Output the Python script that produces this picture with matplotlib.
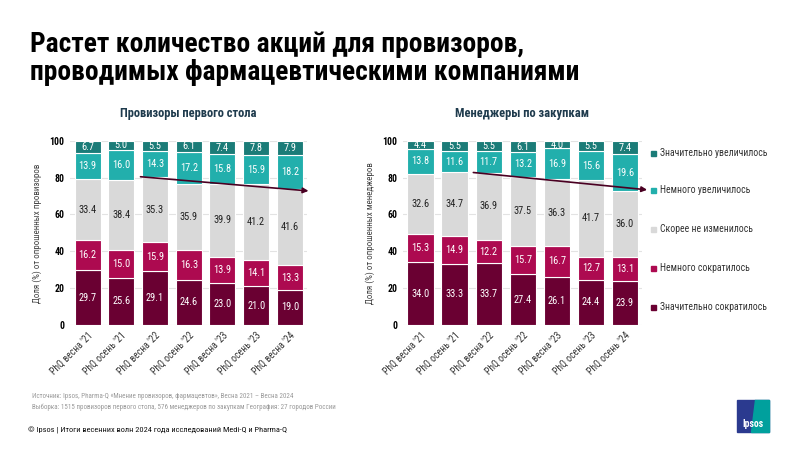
import numpy as np
import matplotlib
matplotlib.use("Agg")
import matplotlib.pyplot as plt
from matplotlib.patches import Rectangle, Polygon

plt.rcParams["font.family"] = ["Roboto Condensed", "PT Sans Narrow", "DejaVu Sans"]

# ── data ─────────────────────────────────────────────────────────────────────
labels_left = ["PhQ весна '21", "PhQ осень '21", "PhQ весна '22", "PhQ осень '22",
               "PhQ весна '23", "PhQ осень '23", "PhQ весна '24"]
labels_right = ["PhQ весна '21", "PhQ осень '21", "PhQ весна '22", "PhQ осень '22",
                "PhQ весна '23", "PhQ осень '23", "PhQ осень '24"]

categories = ["Значительно сократилось", "Немного сократилось", "Скорее не изменилось",
              "Немного увеличилось", "Значительно увеличилось"]

left_sig_dec = [29.7, 25.6, 29.1, 24.6, 23.0, 21.0, 19.0]
left_some_dec = [16.2, 15.0, 15.9, 16.3, 13.9, 14.1, 13.3]
left_same = [33.4, 38.4, 35.3, 35.9, 39.9, 41.2, 41.6]
left_some_inc = [13.9, 16.0, 14.3, 17.2, 15.8, 15.9, 18.2]
left_sig_inc = [6.7, 5.0, 5.5, 6.1, 7.4, 7.8, 7.9]

right_sig_dec = [34.0, 33.3, 33.7, 27.4, 26.1, 24.4, 23.9]
right_some_dec = [15.3, 14.9, 12.2, 15.7, 16.7, 12.7, 13.1]
right_same = [32.6, 34.7, 36.9, 37.5, 36.3, 41.7, 36.0]
right_some_inc = [13.8, 11.6, 11.7, 13.2, 16.9, 15.6, 19.6]
right_sig_inc = [4.4, 5.5, 5.5, 6.1, 4.0, 5.5, 7.4]

COLORS = ["#6a0032", "#ad0a50", "#d9d9d9", "#22afac", "#1b7c78"]
TXT = ["white", "white", "#222222", "white", "white"]

fig = plt.figure(figsize=(8, 4.5), dpi=100)
fig.patch.set_facecolor("white")


def draw(ax, series, labels, title, ylabel, arrow):
    x = np.arange(len(labels))
    bottom = np.zeros(len(labels))
    for vals, col, tc in zip(series, COLORS, TXT):
        vals = np.array(vals)
        ax.bar(x, vals, bottom=bottom, width=0.77, color=col,
               edgecolor="white", linewidth=0.8, zorder=2)
        for xi, b, v in zip(x, bottom, vals):
            ax.text(xi, b + v / 2, f"{v:.1f}", ha="center", va="center",
                    fontsize=7.5, color=tc, zorder=4)
        bottom += vals
    ax.set_xlim(-0.52, 6.5)
    ax.set_ylim(0, 100)
    ax.set_yticks([0, 20, 40, 60, 80, 100])
    ax.set_yticklabels(["0", "20", "40", "60", "80", "100"],
                       fontsize=7, fontweight="bold")
    ax.set_xticks(x)
    ax.set_xticklabels(labels, rotation=45, ha="right", rotation_mode="anchor",
                       fontsize=7, color="#333333")
    ax.tick_params(length=0, pad=4)
    for s in ax.spines.values():
        s.set_visible(False)
    ax.grid(axis="y", color="#e3e3e3", lw=0.8, zorder=0)
    ax.set_ylabel(ylabel, fontsize=6.5, color="#444444", labelpad=5)
    ax.set_title(title, fontsize=9, fontweight="bold", color="#1f3b4d", pad=17)
    (x0, y0), (x1, y1) = arrow
    ax.annotate("", xy=(x1, y1), xytext=(x0, y0),
                arrowprops=dict(arrowstyle="-|>", color="#4a0022", lw=1.2,
                                mutation_scale=8, shrinkA=0, shrinkB=0),
                zorder=5, annotation_clip=False)


ax1 = fig.add_axes([0.0875, 0.278, 0.296, 0.409])
draw(ax1, [left_sig_dec, left_some_dec, left_same, left_some_inc, left_sig_inc],
     labels_left, "Провизоры первого стола", "Доля (%) от опрошенных провизоров",
     ((1.57, 80.5), (6.55, 72.8)))

ax2 = fig.add_axes([0.5035, 0.278, 0.299, 0.409])
draw(ax2, [right_sig_dec, right_some_dec, right_same, right_some_inc, right_sig_inc],
     labels_right, "Менеджеры по закупкам", "Доля (%) от опрошенных менеджеров",
     ((1.55, 82.8), (6.65, 73.4)))

# legend (top to bottom)
leg_y = [153, 190, 229, 268, 307]
for cat, col, py in zip(categories[::-1], COLORS[::-1], leg_y):
    fig.patches.append(Rectangle((651 / 800, 1 - (py + 2.5) / 450), 5 / 800, 5 / 450,
                                 transform=fig.transFigure, color=col))
    fig.text(660 / 800, 1 - py / 450, cat, fontsize=7, color="#333333",
             va="center", ha="left")

# title
fig.text(30 / 800, 1 - 31 / 450,
         "Растет количество акций для провизоров,\nпроводимых фармацевтическими компаниями",
         fontsize=19.8, fontweight="bold", color="black", va="top", ha="left",
         linespacing=1.05)

# footnotes
fig.text(32 / 800, 1 - 396 / 450,
         "Источник: Ipsos, Pharma-Q «Мнение провизоров, фармацевтов», Весна 2021 – Весна 2024",
         fontsize=5, color="#9a9a9a", va="center")
fig.text(32 / 800, 1 - 407 / 450,
         "Выборка: 1515 провизоров первого стола, 576 менеджеров по закупкам География: 27 городов России",
         fontsize=5, color="#9a9a9a", va="center")
fig.text(28 / 800, 1 - 430 / 450,
         "© Ipsos | Итоги весенних волн 2024 года исследований Medi-Q и Pharma-Q",
         fontsize=6, color="#111111", va="center")

# logo
lx0, lx1, ly0, ly1 = 737 / 800, 769 / 800, 1 - 432 / 450, 1 - 400 / 450
fig.patches.append(Polygon([(lx0, ly0), (lx1, ly0), (lx1, ly1), (lx0, ly1)],
                           closed=True, transform=fig.transFigure, color="#2b3a8f"))
fig.patches.append(Polygon([(lx0 + 0.018, ly0), (lx1, ly0), (lx1, ly1), (lx0 + 0.022, ly1)],
                           closed=True, transform=fig.transFigure, color="#00a09d"))
fig.text((lx0 + lx1) / 2, ly0 + 0.018, "Ipsos", fontsize=7, fontweight="bold",
         color="white", ha="center", va="center")

fig.savefig("out.png", dpi=100, facecolor="white")
